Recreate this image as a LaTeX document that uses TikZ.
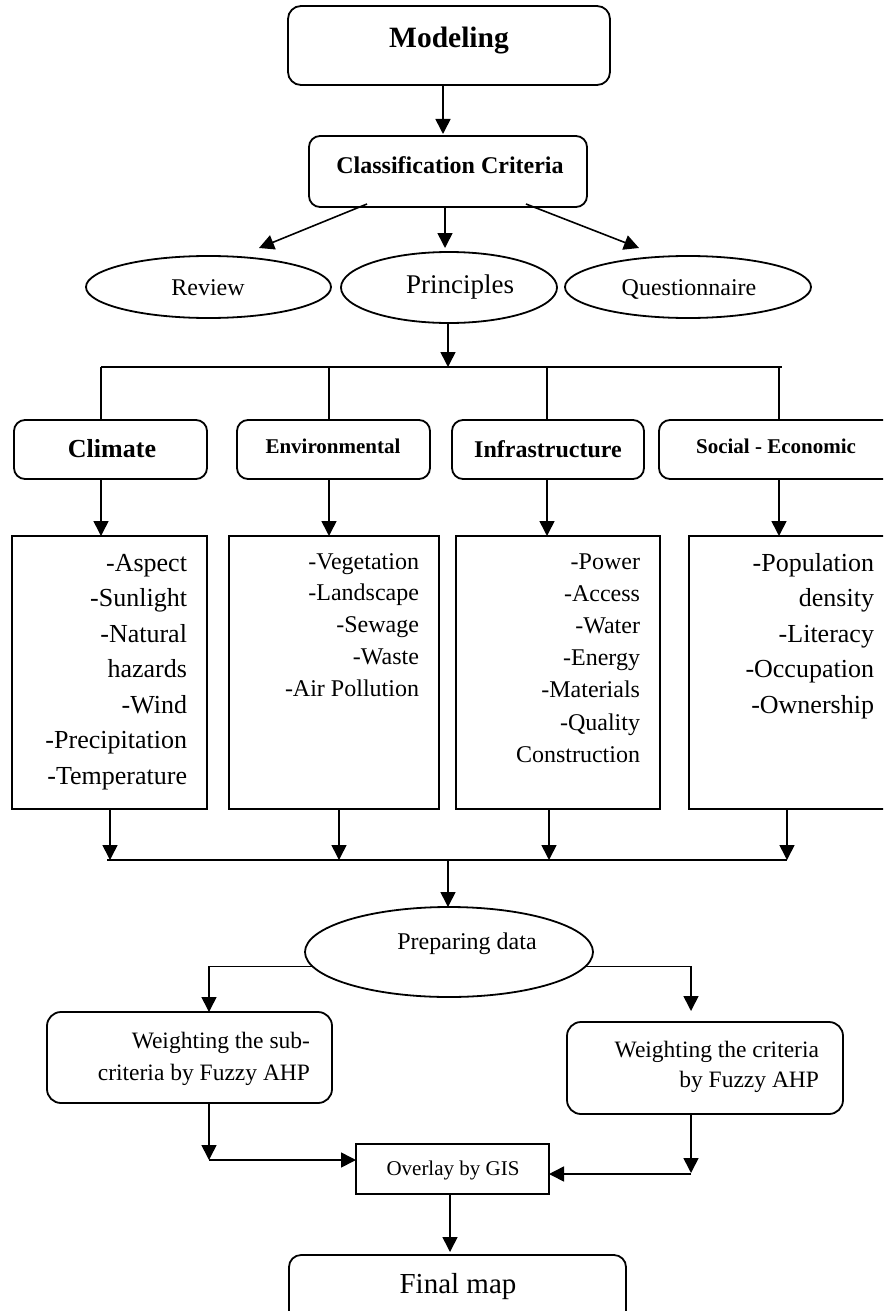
\documentclass[tikz,border=0pt]{standalone}
\usepackage{fontspec}
\setmainfont{Liberation Serif}
\usetikzlibrary{arrows.meta,shapes.geometric,calc}
\newcommand\fs[2]{\fontsize{#1}{#2}\selectfont}
\newcommand\rlines[1]{\vtop{\halign{\hfil##\cr#1\crcr}}}
\begin{document}
\begin{tikzpicture}[x=1pt,y=-1pt,
  every node/.style={inner sep=0pt,outer sep=0pt},
  frame/.style={draw,line width=1.8pt},
  rbox/.style={frame,rounded corners=11pt},
  ebox/.style={frame,ellipse},
  conn/.style={line width=1.6pt},
  arr/.style={line width=1.6pt,-{Triangle[length=15pt,width=15pt]}},
  bt/.style={anchor=base,font=\bfseries\fs{#1}{#1}},
  nt/.style={anchor=base,font=\fs{#1}{#1}},
]
\useasboundingbox (0,0) rectangle (883,1311);
\clip (0,0) rectangle (883,1311);

% ---- top
\node[rbox,rounded corners=13pt,minimum width=322pt,minimum height=79pt] (model) at (449,45.5) {};
\node[bt=29.5] (tmodel) at (449,48) {Modeling};
\node[rbox,minimum width=278pt,minimum height=71pt] (cc) at (448,171.5) {};
\node[bt=24] (tcc) at (450,173) {Classification Criteria};
\coordinate (xm) at (443,0);
\draw[arr] (model.south -| xm) -- ([yshift=2pt]cc.north -| xm);

% ---- ellipses
\node[ebox,minimum width=245pt,minimum height=62pt] (review) at (208.5,287) {};
\node[nt=24] (trev) at (208,295) {Review};
\node[ebox,minimum width=216pt,minimum height=71pt] (princ) at (449,287.5) {};
\node[nt=27] (tprinc) at (460,293) {Principles};
\node[ebox,minimum width=246pt,minimum height=62pt] (quest) at (688,287) {};
\node[nt=24] (tquest) at (689,295) {Questionnaire};

\coordinate (xa) at (367,0); \coordinate (ra) at (259,248);
\coordinate (xb) at (445,0);
\coordinate (xc) at (526,0); \coordinate (qa) at (639,248);
\draw[arr] ([yshift=3pt]cc.south -| xa) -- (ra);
\draw[arr] (cc.south -| xb) -- ([yshift=4pt]princ.north -| xb);
\draw[arr] ([yshift=3pt]cc.south -| xc) -- (qa);

% ---- categories
\node[rbox,minimum width=193pt,minimum height=59pt] (clim) at (110.5,449.5) {};
\node[bt=26] (tclim) at (112,457) {Climate};
\node[rbox,minimum width=193pt,minimum height=59pt] (env) at (333.5,449.5) {};
\node[bt=21] (tenv) at (333,453) {Environmental};
\node[rbox,minimum width=192pt,minimum height=59pt] (infra) at (548,449.5) {};
\node[bt=24] (tinfra) at (548,457) {Infrastructure};
\node[rbox,minimum width=241pt,minimum height=59pt] (soc) at (779.5,449.5) {};
\node[bt=21] (tsoc) at (776,453) {Social - Economic};

\coordinate (b1) at (101,367); \coordinate (b2) at (329,367);
\coordinate (b3) at (547,367); \coordinate (b4) at (779,367);
\coordinate (bm) at (448,367);
\draw[arr] (princ.south -| bm) -- (bm);
\draw[conn] (b1) -- ([xshift=3pt]b4);
\draw[conn] (b1) -- (b1 |- clim.north);
\draw[conn] (b2) -- (b2 |- env.north);
\draw[conn] (b3) -- (b3 |- infra.north);
\draw[conn] (b4) -- (b4 |- soc.north);

% ---- lists
\node[frame,minimum width=195pt,minimum height=273pt] (cl) at (109.5,672.5) {};
\node[frame,minimum width=210pt,minimum height=273pt] (el) at (334,672.5) {};
\node[frame,minimum width=204pt,minimum height=273pt] (il) at (558,672.5) {};
\node[frame,minimum width=211pt,minimum height=273pt] (sl) at (794.5,672.5) {};

\node[anchor=base east,font=\fs{26}{35.5}] (tcl) at (187,571)
  {\rlines{-Aspect\cr-Sunlight\cr-Natural\cr hazards\cr-Wind\cr-Precipitation\cr-Temperature}};
\node[anchor=base east,font=\fs{24}{31.75}] (tel) at (419,569)
  {\rlines{-Vegetation\cr-Landscape\cr-Sewage\cr-Waste\cr-Air Pollution}};
\node[anchor=base east,font=\fs{24}{32.2}] (til) at (640,569)
  {\rlines{-Power\cr-Access\cr-Water\cr-Energy\cr-Materials\cr-Quality\cr Construction}};
\node[anchor=base east,font=\fs{26}{35.5}] (tsl) at (874,571)
  {\rlines{-Population\cr density\cr-Literacy\cr-Occupation\cr-Ownership}};

\draw[arr] (b1 |- clim.south) -- (b1 |- cl.north);
\draw[arr] (b2 |- env.south) -- (b2 |- el.north);
\draw[arr] (b3 |- infra.south) -- (b3 |- il.north);
\draw[arr] (b4 |- soc.south) -- (b4 |- sl.north);

% ---- bottom bus
\coordinate (c1) at (110,860); \coordinate (c2) at (339,860);
\coordinate (c3) at (549,860); \coordinate (c4) at (787,860);
\coordinate (cm) at (448,860);
\draw[arr] (c1 |- cl.south) -- (c1);
\draw[arr] (c2 |- el.south) -- (c2);
\draw[arr] (c3 |- il.south) -- (c3);
\draw[arr] (c4 |- sl.south) -- (c4);
\draw[conn] ([xshift=-3pt]c1) -- (c4);

\node[ebox,minimum width=288pt,minimum height=90pt] (prep) at (449,952) {};
\node[nt=24] (tprep) at (467,949) {Preparing data};
\draw[arr] (cm) -- (cm |- prep.north);

% ---- weighting
\node[rbox,rounded corners=14pt,minimum width=285pt,minimum height=91pt] (lw) at (189.5,1057.5) {};
\node[anchor=base east,font=\fs{23.5}{32}] (tlw) at (310,1048)
  {\rlines{Weighting the sub-\cr criteria by Fuzzy AHP}};
\node[rbox,rounded corners=14pt,minimum width=276pt,minimum height=92pt] (rw) at (705,1068) {};
\node[anchor=base east,font=\fs{23.5}{29.5}] (trw) at (819,1057.5)
  {\rlines{Weighting the criteria\cr by Fuzzy AHP}};

\coordinate (lx) at (209,0); \coordinate (rin) at (691,1011);
\draw[arr] (prep.186) -| (lx |- lw.north);
\draw[arr] (prep.354) -| (rin);

% ---- overlay
\node[frame,minimum width=193pt,minimum height=50pt] (ov) at (452.5,1169) {};
\node[nt=21] (tov) at (453,1175) {Overlay by GIS};
\coordinate (lc) at (209,1160);
\draw[arr] (lx |- lw.south) -- (lc);
\draw[arr] (lc) -- (lc -| ov.west);
\coordinate (rc) at (691,1173); \coordinate (rc2) at (691,1174);
\draw[arr] (rc |- rw.south) -- (rc);
\draw[arr] (rc2) -- (rc2 -| ov.east);

% ---- final
\node[rbox,rounded corners=12pt,minimum width=337pt,minimum height=75pt] (fm) at (457.5,1292.5) {};
\node[nt=29] (tfm) at (458,1293) {Final map};
\coordinate (xf) at (450,0);
\draw[arr] (ov.south -| xf) -- ([yshift=3pt]fm.north -| xf);
\end{tikzpicture}
\end{document}
